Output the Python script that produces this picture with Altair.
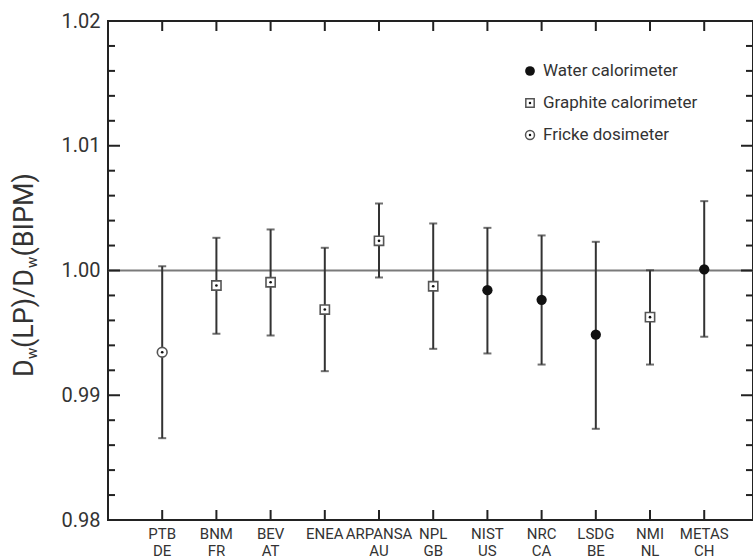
import altair as alt
import pandas as pd

# ---- data ----
labs1 = ["PTB", "BNM", "BEV", "ENEA", "ARPANSA", "NPL", "NIST", "NRC", "LSDG", "NMI", "METAS"]
labs2 = ["DE", "FR", "AT", "", "AU", "GB", "US", "CA", "BE", "NL", "CH"]
method = ["Fricke", "Graphite", "Graphite", "Graphite", "Graphite", "Graphite",
          "Water", "Water", "Water", "Graphite", "Water"]
ratio = [0.99345, 0.99880, 0.99906, 0.99687, 1.00238, 0.99874, 0.99842, 0.99765, 0.99485, 0.99626, 1.00010]
upper = [1.00034, 1.00262, 1.00329, 1.00182, 1.00537, 1.00377, 1.00342, 1.00281, 1.00230, 1.00002, 1.00556]
lower = [0.98656, 0.99493, 0.99479, 0.99193, 0.99944, 0.99372, 0.99335, 0.99246, 0.98731, 0.99246, 0.99469]
pos = list(range(1, len(labs1) + 1))

ytick_major = [0.98, 0.99, 1.00, 1.01, 1.02]
ytick_minor = [0.982, 0.984, 0.986, 0.988, 0.992, 0.994, 0.996, 0.998,
               1.002, 1.004, 1.006, 1.008, 1.012, 1.014, 1.016, 1.018]
legend_labels = ["Water calorimeter", "Graphite calorimeter", "Fricke dosimeter"]
title_parts = ["D", "w", "(LP)/D", "w", "(BIPM)"]
ref_value = [1.0]

W, H = 645, 499
XMAX = 11.9
YMIN, YMAX = 0.98, 1.02
FONT = "Roboto"
INK = "#333333"
FRAME = "#222222"

df = pd.DataFrame({"lab1": labs1, "lab2": labs2, "method": method, "ratio": ratio,
                   "upper": upper, "lower": lower, "pos": pos})

xs = alt.Scale(domain=[0, XMAX], nice=False, zero=False)
ys = alt.Scale(domain=[YMIN, YMAX], nice=False, zero=False)
X = alt.X("pos:Q", scale=xs, axis=None)

# one pixel in data units (for the inward frame ticks)
px_x = XMAX / W
px_y = (YMAX - YMIN) / H

base = alt.Chart(df)

yaxis = alt.Axis(values=ytick_major, format=".2f", ticks=False, domain=False, grid=False,
                 labelFontSize=20, labelColor=INK, labelFont=FONT, labelPadding=8, title=None)

ref = alt.Chart(pd.DataFrame({"v": ref_value})).mark_rule(color="#7a7a7a", strokeWidth=2.2).encode(
    y=alt.Y("v:Q", scale=ys, axis=yaxis))

bars = base.mark_rule(color=INK, strokeWidth=2).encode(
    x=X, y=alt.Y("lower:Q", scale=ys), y2="upper:Q")
cap_lo = base.mark_tick(orient="horizontal", size=8, thickness=2, color=INK).encode(
    x=X, y=alt.Y("lower:Q", scale=ys))
cap_hi = base.mark_tick(orient="horizontal", size=8, thickness=2, color=INK).encode(
    x=X, y=alt.Y("upper:Q", scale=ys))

water = base.transform_filter(alt.datum.method == "Water").mark_point(
    shape="circle", filled=True, size=105, color="#111111", opacity=1).encode(
    x=X, y=alt.Y("ratio:Q", scale=ys))
graphite = base.transform_filter(alt.datum.method == "Graphite").mark_point(
    shape="square", filled=True, fill="white", stroke="#555555", strokeWidth=1.6, size=85, opacity=1).encode(
    x=X, y=alt.Y("ratio:Q", scale=ys))
fricke = base.transform_filter(alt.datum.method == "Fricke").mark_point(
    shape="circle", filled=True, fill="white", stroke="#555555", strokeWidth=1.6, size=95, opacity=1).encode(
    x=X, y=alt.Y("ratio:Q", scale=ys))
dots = base.transform_filter(alt.datum.method != "Water").mark_point(
    shape="circle", filled=True, size=7, color="#111111", opacity=1).encode(
    x=X, y=alt.Y("ratio:Q", scale=ys))

# inward ticks on the frame, drawn as tick marks centred half a tick length inside the edge
MAJ, MIN, XT = 12, 7, 10
ymaj_rows = [(v, MAJ / 2 * px_x) for v in ytick_major] + [(v, XMAX - MAJ / 2 * px_x) for v in ytick_major]
ymin_rows = [(v, MIN / 2 * px_x) for v in ytick_minor] + [(v, XMAX - MIN / 2 * px_x) for v in ytick_minor]
ymaj_df = pd.DataFrame(ymaj_rows, columns=["v", "xc"])
ymin_df = pd.DataFrame(ymin_rows, columns=["v", "xc"])
xt_rows = [(p, YMAX - XT / 2 * px_y) for p in pos] + [(p, YMIN + XT / 2 * px_y) for p in pos]
xt_df = pd.DataFrame(xt_rows, columns=["p", "yc"])

yt_maj = alt.Chart(ymaj_df).mark_tick(orient="horizontal", size=MAJ, thickness=2, color=FRAME, opacity=1).encode(
    x=alt.X("xc:Q", scale=xs, axis=None), y=alt.Y("v:Q", scale=ys, axis=yaxis))
yt_min = alt.Chart(ymin_df).mark_tick(orient="horizontal", size=MIN, thickness=2, color=FRAME, opacity=1).encode(
    x=alt.X("xc:Q", scale=xs, axis=None), y=alt.Y("v:Q", scale=ys, axis=yaxis))
xt = alt.Chart(xt_df).mark_tick(orient="vertical", size=XT, thickness=2, color=FRAME, opacity=1).encode(
    x=alt.X("p:Q", scale=xs, axis=None), y=alt.Y("yc:Q", scale=ys, axis=yaxis))

# category labels (two lines)
lab_a = base.mark_text(font=FONT, fontSize=15, color=INK, baseline="middle").encode(
    x=X, y=alt.value(H + 14), text="lab1:N")
lab_b = base.mark_text(font=FONT, fontSize=15, color=INK, baseline="middle").encode(
    x=X, y=alt.value(H + 31), text="lab2:N")

# legend
LX, LY0, LDY = 422, 50, 32
leg_df = pd.DataFrame({"label": legend_labels})
leg_w = alt.Chart(leg_df.iloc[[0]]).mark_point(shape="circle", filled=True, size=95, color="#111", opacity=1).encode(
    x=alt.value(LX), y=alt.value(LY0))
leg_g = alt.Chart(leg_df.iloc[[1]]).mark_point(shape="square", filled=True, fill="white", stroke="#555",
                                                strokeWidth=1.5, size=70, opacity=1).encode(
    x=alt.value(LX), y=alt.value(LY0 + LDY))
leg_f = alt.Chart(leg_df.iloc[[2]]).mark_point(shape="circle", filled=True, fill="white", stroke="#555",
                                                strokeWidth=1.5, size=80, opacity=1).encode(
    x=alt.value(LX), y=alt.value(LY0 + 2 * LDY))
leg_d = alt.Chart(leg_df.iloc[[1]]).mark_point(
    shape="circle", filled=True, size=6, color="#111", opacity=1).encode(
    x=alt.value(LX), y=alt.value(LY0 + LDY))
leg_d2 = alt.Chart(leg_df.iloc[[2]]).mark_point(
    shape="circle", filled=True, size=6, color="#111", opacity=1).encode(
    x=alt.value(LX), y=alt.value(LY0 + 2 * LDY))
leg_t = [alt.Chart(leg_df.iloc[[i]]).mark_text(font=FONT, fontSize=17, color=INK, align="left",
                                                baseline="middle").encode(
    x=alt.value(LX + 13), y=alt.value(LY0 + i * LDY), text="label:N") for i in range(3)]

# y-axis title with subscripts
TX, TY = -75, 356
tfs, sfs = 27, 15
t_df = pd.DataFrame({"t": title_parts})
offs = [0, 18.0, 29.0, 29.0 + 80.0, 29.0 + 80.0 + 11.5]
title_layers = []
for i, part in enumerate(title_parts):
    sub = part == "w"
    title_layers.append(
        alt.Chart(t_df.iloc[[i]]).mark_text(font=FONT, fontSize=sfs if sub else tfs, color=INK, angle=270,
                                            align="left", baseline="alphabetic").encode(
            x=alt.value(TX + (4 if sub else 0)), y=alt.value(TY - offs[i]), text="t:N"))

chart = alt.layer(
    ref, yt_maj, yt_min, xt, bars, cap_lo, cap_hi, water, graphite, fricke, dots,
    lab_a, lab_b,
    leg_w, leg_g, leg_f, leg_d, leg_d2, *leg_t, *title_layers
).properties(
    width=W, height=H,
    padding={"left": 108, "top": 21, "right": 0, "bottom": 40},
    autosize=alt.AutoSizeParams(type="none"),
    background="white",
).configure_view(stroke=FRAME, strokeWidth=2)

chart.save("out.html", embed_options={"renderer": "svg", "actions": False})
